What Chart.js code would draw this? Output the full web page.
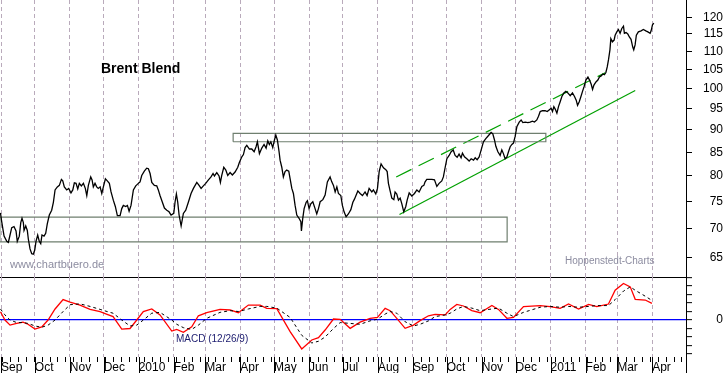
<!DOCTYPE html>
<html><head><meta charset="utf-8">
<script src="https://cdn.jsdelivr.net/npm/chart.js@4/dist/chart.umd.min.js"></script>
<style>
html,body{margin:0;padding:0;background:#fff;}
#wrap{position:relative;width:723px;height:373px;overflow:hidden;background:#fff;font-family:"Liberation Sans",Arial,sans-serif;}
canvas{position:absolute;left:0;}
#c1{top:0;}
#c2{top:277px;}
.t{position:absolute;white-space:nowrap;line-height:1;}
</style></head><body>
<div id="wrap">
<canvas id="c1" width="723" height="278"></canvas>
<canvas id="c2" width="723" height="96"></canvas>
<div class="t" style="left:101px;top:61px;font-size:14px;font-weight:bold;color:#000;">Brent Blend</div>
<div class="t" style="left:10px;top:259px;font-size:11px;color:#8c8ca0;">www.chartbuero.de</div>
<div class="t" style="left:565px;top:256px;font-size:10px;color:#8c8ca0;">Hoppenstedt-Charts</div>
<div class="t" style="left:176px;top:334px;font-size:10px;color:#1a1a6e;">MACD (12/26/9)</div>
</div>
<script>
// x values are calendar days counted from 2009-09-01
const monthTickDays = [0,30,61,91,122,153,181,212,242,273,303,334,365,395,426,456,487,518,546,577,607];
const monthLabels = ['Sep','Oct','Nov','Dec','2010','Feb','Mar','Apr','May','Jun','Jul','Aug','Sep','Oct','Nov','Dec','2011','Feb','Mar','Apr',''];
const priceTicks = [65,70,75,80,85,90,95,100,105,110,115,120];
const macdTicks = [-4,-3,-2,-1,0,1,2,3,4,5];

// Brent price [day, USD]
const pricePoints = [
[-0.5,72.8],[0.6,71.2],[2.7,68.6],[5.1,67.7],[6.5,67.5],[8.0,68.8],[9.5,70.1],[11.5,70.3],[13.3,69.5],[14.4,67.7],
[16.2,68.6],[17.5,71.0],[18.6,71.8],[19.8,71.0],[20.4,69.6],[21.9,70.4],[23.3,69.6],[24.2,68.1],[25.7,66.4],[27.2,65.6],
[28.6,65.5],[29.9,66.2],[31.0,67.7],[32.5,68.8],[33.9,67.7],[35.2,67.3],[36.3,68.8],[38.1,68.6],[39.6,69.1],[41.0,70.8],
[42.8,72.4],[44.9,73.3],[46.4,74.8],[47.9,77.2],[49.9,77.8],[51.7,78.1],[53.5,79.3],[54.7,79.0],[56.1,77.8],[58.2,77.2],
[60.0,77.5],[62.0,76.6],[63.6,77.2],[65.0,78.6],[66.5,78.5],[68.0,77.4],[69.4,78.5],[71.2,78.0],[73.0,78.5],[74.7,77.5],
[76.0,76.1],[77.4,78.1],[79.5,79.8],[80.7,79.2],[81.8,77.8],[83.3,78.5],[84.8,77.8],[86.2,77.5],[87.8,77.8],[89.3,76.5],
[90.7,77.8],[92.5,79.4],[94.2,79.0],[96.0,78.5],[97.5,76.8],[99.5,75.2],[101.3,74.0],[103.1,72.3],[105.5,72.3],[107.0,73.6],
[108.4,74.2],[110.5,74.0],[112.0,74.2],[113.5,73.1],[115.2,74.2],[117.3,77.2],[119.4,78.0],[121.7,78.5],[123.2,78.8],[124.7,80.1],
[127.0,81.0],[129.1,81.6],[130.6,81.5],[132.1,80.5],[133.6,78.7],[135.9,78.1],[138.0,78.0],[139.4,77.2],[140.9,76.1],[143.0,74.8],
[144.8,73.7],[146.9,73.3],[148.9,73.0],[150.7,72.4],[153.1,72.7],[154.2,74.8],[155.4,76.4],[156.6,74.8],[157.8,72.4],[159.6,70.4],
[161.6,72.7],[163.7,73.3],[166.0,74.8],[168.4,76.5],[170.5,77.5],[173.5,78.7],[175.5,78.1],[177.3,77.5],[179.3,78.0],[181.4,78.5],
[183.8,79.2],[186.1,79.8],[187.9,80.5],[189.1,80.0],[191.2,80.7],[193.2,80.0],[194.4,78.7],[195.6,80.1],[197.4,81.8],[199.2,81.2],
[200.9,80.1],[203.0,80.7],[205.0,80.2],[207.4,80.8],[209.8,81.8],[211.2,82.8],[213.4,84.0],[214.8,84.5],[216.3,86.0],[217.8,86.5],
[220.1,85.7],[222.2,85.7],[224.3,85.1],[226.0,86.2],[227.2,87.3],[229.0,84.7],[231.1,85.9],[233.1,86.7],[234.9,85.9],[236.4,87.5],
[237.8,86.7],[239.1,87.3],[240.8,86.0],[242.3,87.7],[243.5,88.8],[244.9,87.7],[246.4,85.1],[247.3,83.3],[248.8,81.8],[250.2,79.8],
[251.7,80.9],[253.2,81.2],[255.0,81.0],[256.2,79.4],[257.7,77.5],[259.1,76.5],[260.6,74.2],[262.1,72.4],[264.1,71.8],[265.7,71.2],
[266.2,69.5],[267.4,71.8],[268.6,73.6],[270.4,74.8],[271.5,75.1],[273.0,73.6],[274.5,74.5],[276.3,74.9],[278.3,73.6],[279.8,72.6],
[281.3,73.6],[282.8,74.9],[285.2,75.3],[287.2,76.2],[289.2,78.8],[291.6,79.8],[293.1,78.8],[294.6,78.1],[296.1,76.8],[297.6,77.8],
[299.0,76.5],[301.1,76.1],[302.5,74.2],[304.0,73.0],[305.8,72.1],[307.8,72.6],[310.0,73.4],[311.8,74.8],[313.2,75.4],[316.2,77.0],
[318.2,76.5],[320.3,76.1],[322.6,76.8],[324.4,76.1],[326.2,77.5],[328.6,76.8],[330.0,77.2],[332.1,76.4],[333.6,77.5],[335.1,80.9],
[336.8,82.5],[338.9,81.7],[341.0,81.3],[342.2,80.9],[343.3,78.5],[344.8,77.0],[346.3,75.6],[348.1,75.3],[349.2,76.8],[350.7,76.4],
[352.2,75.2],[353.7,75.6],[355.2,74.5],[356.9,73.0],[358.7,74.0],[359.9,75.2],[361.7,76.6],[364.0,76.0],[366.4,76.5],[368.5,77.2],
[370.5,76.8],[372.9,77.9],[374.7,78.1],[375.8,78.8],[377.3,79.3],[379.4,79.3],[381.8,79.3],[384.1,79.2],[386.2,77.9],[388.2,78.5],
[390.6,79.0],[392.0,79.8],[393.6,81.8],[395.1,83.6],[397.1,84.3],[398.9,85.1],[400.7,85.5],[402.4,84.3],[404.2,83.9],[405.9,84.6],
[407.7,83.8],[408.9,84.8],[410.7,84.0],[412.8,83.6],[414.8,83.1],[416.6,83.6],[418.7,83.3],[420.2,83.8],[421.9,83.4],[423.7,84.0],
[425.5,85.5],[427.5,87.3],[429.6,88.0],[432.0,88.7],[434.3,89.4],[435.8,89.1],[437.3,87.7],[438.5,86.3],[440.3,85.1],[442.3,84.3],
[443.8,85.5],[445.2,84.7],[446.7,83.6],[448.3,84.0],[449.7,85.1],[451.2,86.2],[452.7,86.7],[454.1,87.0],[455.6,88.5],[457.1,90.7],
[459.2,91.8],[460.9,92.3],[462.4,91.7],[464.5,91.8],[466.9,91.7],[468.9,91.8],[470.9,92.0],[472.7,91.8],[474.8,92.3],[476.3,93.2],
[477.8,94.3],[479.8,94.5],[482.2,94.5],[484.0,94.3],[485.7,94.7],[487.5,95.1],[488.7,94.3],[489.9,95.5],[491.1,94.9],[492.6,93.9],
[494.0,95.5],[495.5,96.7],[497.0,98.0],[498.8,98.9],[500.5,99.3],[502.3,98.9],[504.4,98.2],[506.4,98.9],[508.2,98.0],[509.7,97.1],
[510.9,95.8],[512.4,96.7],[513.9,98.0],[515.3,99.3],[516.8,100.6],[518.3,102.2],[520.1,103.0],[521.5,102.2],[523.0,101.1],[524.2,99.8],
[525.4,100.9],[527.2,101.7],[528.9,102.2],[530.3,103.0],[531.8,103.3],[533.3,103.8],[534.7,103.6],[536.0,104.2],[537.2,105.7],[538.3,107.6],
[539.6,110.4],[540.4,113.6],[541.8,112.7],[543.3,113.2],[544.2,114.6],[545.7,115.6],[547.1,116.3],[548.6,115.2],[550.1,116.6],[551.6,117.3],
[552.4,115.2],[553.9,115.4],[555.4,115.0],[556.8,114.1],[558.3,113.4],[559.8,111.2],[560.7,110.4],[561.9,111.8],[563.0,114.6],[564.8,115.6],
[567.2,115.9],[569.2,116.3],[571.4,115.9],[573.2,115.6],[575.2,115.2],[576.1,115.9],[577.3,117.7],[578.5,118.2]
];

// MACD (12/26/9): [day, MACD, signal]
const macdPoints = [
[-0.5,0.98,1.3],[3.5,0.0,0.6],[8.0,-0.6,0.0],[13.9,-0.4,-0.3],[19.5,-0.25,-0.3],[23.9,-0.5,-0.4],[30.1,-1.06,-0.7],[36.1,-0.8,-0.85],
[41.7,0.0,-0.6],[47.9,1.3,0.0],[55.0,2.4,1.0],[61.2,2.1,1.8],[70.0,1.76,1.9],[78.9,1.25,1.6],[87.8,0.98,1.25],[94.0,0.67,1.0],
[99.3,0.4,0.8],[107.0,-1.06,0.0],[114.3,-1.0,-0.7],[120.3,0.0,-0.6],[126.1,1.0,0.0],[133.6,1.3,0.8],[140.9,0.6,0.9],[151.3,-1.3,0.0],
[155.7,-1.1,-0.5],[161.6,-1.45,-0.9],[169.0,-0.8,-1.1],[174.9,0.5,-0.6],[182.3,0.86,0.2],[194.1,1.25,0.9],[203.0,1.18,1.1],[210.3,0.86,1.0],
[219.2,1.76,1.3],[229.6,1.76,1.6],[235.5,1.37,1.6],[244.4,1.33,1.4],[256.2,-1.37,0.3],[266.5,-3.4,-1.8],[275.4,-2.35,-2.7],[281.3,-2.08,-2.5],
[287.2,-1.18,-2.0],[294.6,0.12,-1.0],[300.5,0.08,-0.3],[309.4,-0.98,-0.4],[318.2,-0.25,-0.5],[327.1,0.2,-0.1],[333.6,0.31,0.1],[340.4,1.37,0.7],
[344.8,1.1,1.0],[350.7,0.2,0.8],[358.1,-0.98,-0.2],[365.5,-0.6,-0.7],[371.4,-0.07,-0.5],[378.8,0.5,-0.1],[384.7,0.67,0.4],[393.6,0.6,0.6],
[398.0,1.25,0.8],[403.9,1.84,1.3],[409.8,1.65,1.6],[417.2,1.1,1.4],[424.6,0.86,1.1],[435.0,1.72,1.3],[440.8,1.25,1.4],[448.3,0.2,0.8],
[454.1,0.31,0.4],[463.0,1.57,0.9],[477.8,1.69,1.5],[486.6,1.57,1.6],[495.5,1.37,1.5],[502.9,1.88,1.6],[511.8,1.29,1.5],[520.7,1.84,1.6],
[528.0,1.57,1.7],[538.3,1.88,1.7],[544.2,3.5,2.4],[551.6,4.3,3.4],[557.6,3.9,3.9],[562.0,2.43,3.5],[570.9,2.35,2.8],[576.8,1.96,2.3]
];

// chart annotations: zones [fromDay, toDay, low, high], lines [[day, price],[day, price]]
const supportZone = [-1, 448.5, 67.6, 72.0];
const resistanceZone = [205.7, 482.8, 87.3, 89.2];
const channelLower = [[353.1, 72.5], [562.0, 99.5]];
const channelUpper = [[350.2, 79.8], [535.4, 104.1]];

const X_MIN = -0.9, X_MAX = 607;
const FONT = '"Liberation Sans", Arial, sans-serif';
const GRID = '#b9aabb';

function zoneData(z){
  return [{x:z[0],y:z[2]},{x:z[1],y:z[2]},{x:z[1],y:z[3]},{x:z[0],y:z[3]},{x:z[0],y:z[2]}];
}
function monthTicks(s){ s.ticks = monthTickDays.map(v => ({value:v})); }
function noPad(s){ s.paddingTop = 0; s.paddingBottom = 0; s.paddingLeft = 0; s.paddingRight = 0; }

const common = {
  responsive:false, animation:false, devicePixelRatio:1, events:[],
  layout:{padding:0},
  plugins:{legend:{display:false}, tooltip:{enabled:false}, title:{display:false}},
  elements:{point:{radius:0}, line:{tension:0}}
};

new Chart(document.getElementById('c1'), {
  type:'line',
  data:{datasets:[
    {data:pricePoints.map(p=>({x:p[0],y:p[1]})), borderColor:'#000', borderWidth:1.3, fill:false},
    {data:zoneData(supportZone), borderColor:'#6f7f6f', borderWidth:1.2, fill:false},
    {data:zoneData(resistanceZone), borderColor:'#6f7f6f', borderWidth:1.2, fill:false},
    {data:channelLower.map(p=>({x:p[0],y:p[1]})), borderColor:'#00a000', borderWidth:1.2, fill:false},
    {data:channelUpper.map(p=>({x:p[0],y:p[1]})), borderColor:'#00a000', borderWidth:1.2, borderDash:[17,8], fill:false}
  ]},
  options:Object.assign({}, common, {
    scales:{
      x:{type:'linear', min:X_MIN, max:X_MAX, afterBuildTicks:monthTicks,
         ticks:{display:false},
         grid:{color:GRID, lineWidth:1, drawTicks:false},
         border:{display:true, color:'#000', width:1, dash:[4,3]},
         afterFit:s=>{s.height=1; noPad(s);}},
      y:{type:'logarithmic', position:'right', min:61.8, max:125.4,
         afterBuildTicks:s=>{s.ticks = priceTicks.map(v=>({value:v}));},
         ticks:{callback:v=>String(v), color:'#000', font:{family:FONT, size:12}, padding:7, crossAlign:'far', autoSkip:false},
         grid:{drawOnChartArea:false, drawTicks:true, tickLength:6, tickColor:'#000', tickBorderDash:[]},
         border:{display:true, color:'#000', width:1},
         afterFit:s=>{s.width=37; noPad(s);}}
    }
  })
});

const axisTicks = {
  id:'axisTicks',
  afterDraw(chart){
    const sx = chart.scales.x, ctx = chart.ctx, top = chart.chartArea.bottom;
    ctx.save(); ctx.strokeStyle='#000'; ctx.lineWidth=1; ctx.setLineDash([]);
    for (let d = 1; d < X_MAX; d += 7) {
      const px = Math.round(sx.getPixelForValue(d)) + 0.5;
      ctx.beginPath(); ctx.moveTo(px, top); ctx.lineTo(px, top+5); ctx.stroke();
    }
    monthTickDays.forEach(d => {
      const px = Math.round(sx.getPixelForValue(d)) + 0.5;
      ctx.beginPath(); ctx.moveTo(px, top); ctx.lineTo(px, top+16); ctx.stroke();
    });
    ctx.restore();
  }
};

new Chart(document.getElementById('c2'), {
  type:'line',
  data:{datasets:[
    {data:macdPoints.map(p=>({x:p[0],y:p[2]})), borderColor:'#000', borderWidth:1, borderDash:[3,3], fill:false},
    {data:macdPoints.map(p=>({x:p[0],y:p[1]})), borderColor:'#ff0000', borderWidth:1.3, fill:false}
  ]},
  plugins:[axisTicks],
  options:Object.assign({}, common, {
    scales:{
      x:{type:'linear', min:X_MIN, max:X_MAX, afterBuildTicks:monthTicks,
         ticks:{callback:(v,i)=>monthLabels[i], color:'#000', font:{family:FONT, size:12}, padding:3, align:'start', autoSkip:false, maxRotation:0},
         grid:{color:GRID, lineWidth:1, drawTicks:false},
         border:{display:false, dash:[4,3]},
         afterFit:s=>{s.height=16; noPad(s);}},
      y:{type:'linear', position:'right', min:-4.35, max:5.06,
         afterBuildTicks:s=>{s.ticks = macdTicks.map(v=>({value:v}));},
         ticks:{callback:v=>(v===0?'0':''), color:'#000', font:{family:FONT, size:12}, padding:20, crossAlign:'far', autoSkip:false},
         grid:{drawOnChartArea:true, color:c=>(c.tick && c.tick.value===0 ? '#0000ff' : 'rgba(0,0,0,0)'), lineWidth:1.3, drawTicks:true, tickLength:6, tickColor:'#000', tickWidth:1, tickBorderDash:[]},
         border:{display:true, color:'#000', width:1},
         afterFit:s=>{s.width=37; noPad(s);}}
    }
  })
});
</script>
</body></html>
